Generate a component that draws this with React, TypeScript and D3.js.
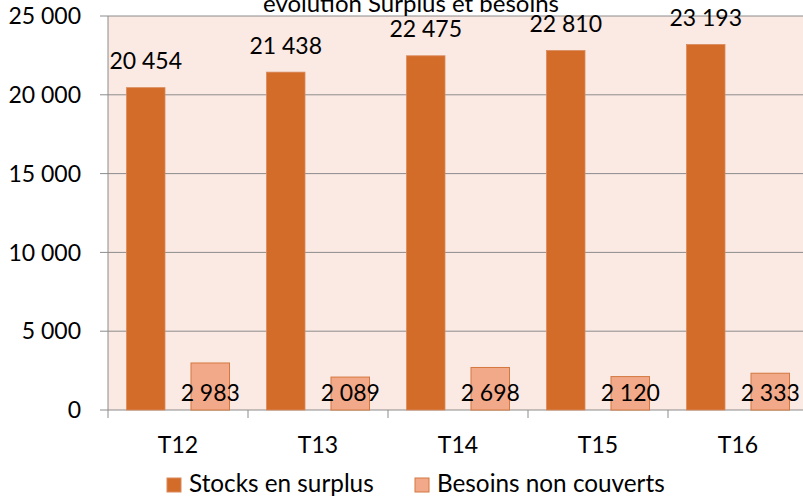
import * as d3 from 'd3';

const categories = ['T12', 'T13', 'T14', 'T15', 'T16'];
const stocksSurplus = [20454, 21438, 22475, 22810, 23193];
const besoinsNonCouverts = [2983, 2089, 2698, 2120, 2333];
const yTicks = [0, 5000, 10000, 15000, 20000, 25000];
const seriesNames = ['Stocks en surplus', 'Besoins non couverts'];

const W = 803;
const H = 498;
const FONT = 'Lato, "Open Sans", sans-serif';

// format with a space as thousands separator
const fmt = (v: number) => d3.format(',')(v).replace(/,/g, ' ');

export default function App() {
  const left = 108;
  const top = 16;
  const bottom = 410;
  const right = 808;

  const x = d3.scaleBand().domain(categories).range([left, right]).paddingInner(0).paddingOuter(0);
  const y = d3.scaleLinear().domain([0, 25000]).range([bottom, top]);
  const bw = 38.5;
  const gap = 26;
  const offset = (x.bandwidth() - 2 * bw - gap) / 2;

  return (
    <svg width={W} height={H} style={{ position: 'absolute', left: 0, top: 0, background: '#fff' }}>
      <rect x={left} y={top} width={right - left} height={bottom - top} fill="#FBE9E4" />
      {yTicks.map((t) => (
        <g key={t}>
          <line x1={left - 8} x2={right} y1={y(t)} y2={y(t)} stroke="#8C8C8C" strokeWidth={1} />
          <text x={81} y={y(t)} dy="0.36em" textAnchor="end" fontFamily={FONT} fontSize={23} fill="#000">
            {fmt(t)}
          </text>
        </g>
      ))}
      <line x1={left} x2={left} y1={top} y2={bottom} stroke="#8C8C8C" strokeWidth={1} />
      {categories.map((c) => (
        <line key={c} x1={x(c)!} x2={x(c)!} y1={bottom} y2={bottom + 8} stroke="#8C8C8C" strokeWidth={1} />
      ))}
      {categories.map((c, i) => {
        const x0 = x(c)! + offset;
        const x1 = x0 + bw + gap;
        return (
          <g key={c}>
            <rect x={x0} y={y(stocksSurplus[i])} width={bw} height={bottom - y(stocksSurplus[i])}
              fill="#D46C29" stroke="#D98A5C" strokeWidth={0.8} />
            <rect x={x1} y={y(besoinsNonCouverts[i])} width={bw} height={bottom - y(besoinsNonCouverts[i])}
              fill="#F1A98A" stroke="#D4783F" strokeWidth={1} />
            <text x={x0 + bw / 2} y={y(stocksSurplus[i]) - 18.5} textAnchor="middle" fontFamily={FONT} fontSize={23}>
              {fmt(stocksSurplus[i])}
            </text>
            <text x={x1 + bw / 2} y={401} textAnchor="middle" fontFamily={FONT} fontSize={23}>
              {fmt(besoinsNonCouverts[i])}
            </text>
            <text x={x(c)! + x.bandwidth() / 2} y={452.5} textAnchor="middle" fontFamily={FONT} fontSize={23}>
              {c}
            </text>
          </g>
        );
      })}
      <text x={411} y={11.5} textAnchor="middle" fontFamily={FONT} fontSize={24}>
        évolution Surplus et besoins
      </text>
      {seriesNames.map((s, i) => {
        const lx = i === 0 ? 167 : 415;
        return (
          <g key={s}>
            <rect x={lx} y={478} width={14} height={14} fill={i === 0 ? '#D46C29' : '#F1A98A'}
              stroke={i === 0 ? '#D98A5C' : '#D4783F'} strokeWidth={1} />
            <text x={lx + 22} y={491.5} fontFamily={FONT} fontSize={24.3}>{s}</text>
          </g>
        );
      })}
    </svg>
  );
}
